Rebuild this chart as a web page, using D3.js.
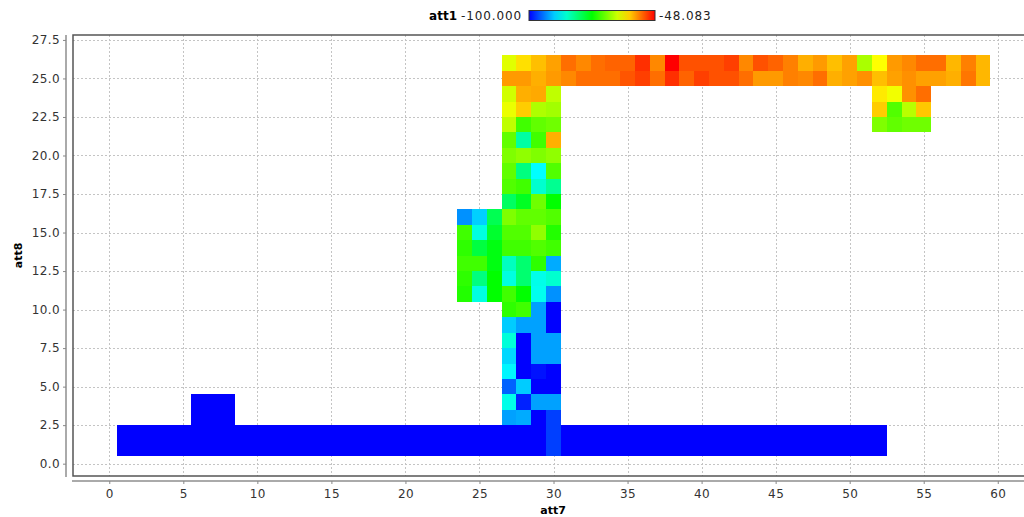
<!DOCTYPE html>
<head>
  <meta charset="utf-8">
  <script src="https://d3js.org/d3.v7.min.js"></script>
  <style>
    body { margin:0; background:#fff; }
    svg { display:block; font-family:"DejaVu Sans", sans-serif; }
  </style>
</head>
<body>
<script>
// value range of att1 (colour legend)
var vMin = -100.000, vMax = -48.083;

var xTicks = [0,5,10,15,20,25,30,35,40,45,50,55,60];
var yTicks = [0,2.5,5,7.5,10,12.5,15,17.5,20,22.5,25,27.5];

// each row: [att8, first att7, att1 values along att7]
var band = [
  [26, 27, [-62.6,-59.5,-57.8,-56.3,-53.7,-55.0,-53.7,-53.1,-53.1,-50.5,-55.0,-48.1,-52.2,-52.2,-52.2,-51.3,-55.0,
            -52.2,-53.1,-54.6,-57.0,-55.9,-57.8,-56.3,-65.4,-61.1,-55.9,-55.0,-53.7,-53.7,-57.4,-54.6,-57.4]],
  [25, 27, [-55.9,-55.9,-57.0,-55.9,-55.0,-53.7,-53.7,-53.7,-52.4,-51.3,-53.7,-50.5,-53.1,-51.3,-52.2,-52.2,-53.7,
            -55.9,-55.9,-54.6,-55.0,-53.7,-57.0,-56.3,-55.4,-57.8,-56.3,-55.4,-56.3,-56.3,-57.0,-54.1,-57.4]]
];

var stem = [
  [24, 27, [-63.4,-57.0,-56.7,-64.3]],
  [23, 27, [-62.1,-58.5,-65.2,-65.8]],
  [22, 27, [-64.3,-70.8,-69.1,-68.4]],
  [21, 27, [-69.1,-82.3,-70.8,-57.0]],
  [20, 27, [-67.6,-66.7,-67.6,-66.7]],
  [19, 27, [-69.1,-80.5,-87.0,-69.9]],
  [18, 27, [-69.9,-70.8,-84.6,-81.4]],
  [17, 27, [-79.0,-75.8,-68.4,-74.0]],
  [16, 27, [-67.6,-69.1,-69.1,-69.9]],
  [15, 27, [-69.9,-69.9,-66.7,-72.3]],
  [14, 27, [-70.8,-70.8,-69.9,-70.8]],
  [13, 27, [-83.8,-79.7,-71.7,-91.3]],
  [12, 27, [-85.5,-79.7,-85.9,-84.6]],
  [11, 27, [-70.8,-74.0,-86.2,-92.6]],
  [10, 27, [-71.7,-70.8,-91.8,-100]],
  [9,  27, [-89.6,-91.8,-91.8,-100]],
  [8,  27, [-85.1,-100,-91.8,-91.8]],
  [7,  27, [-89.0,-100,-91.8,-91.8]],
  [6,  27, [-87.5,-100,-99.1,-100]],
  [5,  27, [-95.0,-89.6,-100,-100]],
  [4,  27, [-85.9,-98.3,-91.8,-91.8]],
  [3,  27, [-91.8,-91.3,-100,-96.8]]
];

var side = [
  [16, 24, [-92.6,-89.4,-78.2]],
  [15, 24, [-70.8,-85.5,-76.4]],
  [14, 24, [-71.7,-77.3,-74.9]],
  [13, 24, [-70.8,-70.8,-74.9]],
  [12, 24, [-71.7,-80.5,-74.0]],
  [11, 24, [-72.3,-85.5,-74.0]]
];

var wing = [
  [24, 52, [-60.0,-61.7,-55.4,-53.7]],
  [23, 52, [-58.5,-69.9,-64.7,-58.2]],
  [22, 52, [-67.6,-69.1,-68.4,-68.4]]
];

var bump = [
  [4, 6, [-100,-100,-100]],
  [3, 6, [-100,-100,-100]]
];

// bottom strip att7 1..52, only att7=30 differs
var baseLeft  = [-100,-100,-100,-100,-100,-100,-100,-100,-100,-100,-100,-100,-100,-100,-100,-100,-100,-100,-100,-100,
                 -100,-100,-100,-100,-100,-100,-100,-100,-100];
var baseMid   = [-96.8];
var baseRight = [-100,-100,-100,-100,-100,-100,-100,-100,-100,-100,-100,-100,-100,-100,-100,-100,-100,-100,-100,-100,
                 -100,-100];
var baseVals = baseLeft.concat(baseMid, baseRight);
var base = [[2, 1, baseVals], [1, 1, baseVals]];

var width = 1024, height = 517;
var pLeft = 73, pRight = 1033, pTop = 35, pBottom = 476;

var svg = d3.select("body").append("svg")
  .attr("width", width).attr("height", height);

var x = d3.scaleLinear().domain([-2.45, 62.38]).range([pLeft, pRight]);
var y = d3.scaleLinear().domain([-0.8, 27.82]).range([pBottom, pTop]);

function rainbow(t) { return d3.hsl(240 * (1 - t), 1, 0.5).toString(); }
var tScale = d3.scaleLinear().domain([vMin, vMax]).range([0, 1]).clamp(true);
var color = function(v) { return rainbow(tScale(v)); };

// grid
var grid = svg.append("g").attr("stroke", "#c4c4c4").attr("stroke-dasharray", "2,2");
grid.selectAll("line.gx").data(xTicks).enter().append("line")
  .attr("x1", d => Math.round(x(d)) + 0.5).attr("x2", d => Math.round(x(d)) + 0.5)
  .attr("y1", pTop).attr("y2", pBottom);
grid.selectAll("line.gy").data(yTicks).enter().append("line")
  .attr("y1", d => Math.round(y(d)) + 0.5).attr("y2", d => Math.round(y(d)) + 0.5)
  .attr("x1", pLeft).attr("x2", width);

// cells
var cells = [];
[band, stem, side, wing, bump, base].forEach(function(block) {
  block.forEach(function(r) {
    r[2].forEach(function(v, i) { cells.push({cx: r[1] + i, cy: r[0], v: v}); });
  });
});

svg.append("g").attr("shape-rendering", "crispEdges")
  .selectAll("rect").data(cells).enter().append("rect")
  .attr("x", d => Math.round(x(d.cx - 0.5)))
  .attr("y", d => Math.round(y(d.cy + 0.5)))
  .attr("width", d => Math.round(x(d.cx + 0.5)) - Math.round(x(d.cx - 0.5)))
  .attr("height", d => Math.round(y(d.cy - 0.5)) - Math.round(y(d.cy + 0.5)))
  .attr("fill", d => color(d.v));

// frame
svg.append("rect")
  .attr("x", pLeft).attr("y", pTop)
  .attr("width", pRight - pLeft).attr("height", pBottom - pTop)
  .attr("fill", "none").attr("stroke", "#555").attr("stroke-width", 1.5);

function fmt(n) { return function(d) { return d.toFixed(n); }; }

// y axis
var yAxis = d3.axisLeft(y).tickValues(yTicks).tickFormat(fmt(1)).tickSize(3).tickPadding(3);
var gy = svg.append("g").attr("transform", "translate(66,0)").call(yAxis);
gy.select(".domain").attr("stroke", "#aaa").attr("stroke-width", 2).attr("d", "M0," + pTop + "V" + (pBottom + 1));

// x axis
var xAxis = d3.axisBottom(x).tickValues(xTicks).tickFormat(fmt(0)).tickSize(3).tickPadding(5);
var gx = svg.append("g").attr("transform", "translate(0,481)").call(xAxis);
gx.select(".domain").attr("stroke", "#aaa").attr("stroke-width", 2).attr("d", "M" + (pLeft - 1) + ",0H" + width);

svg.selectAll(".tick line").attr("stroke", "#888");
svg.selectAll(".tick text").attr("fill", "#333").style("font-size", "12px")
  .style("font-family", "DejaVu Sans").style("letter-spacing", "0.4px");

// axis titles
svg.append("text").attr("x", (pLeft + pRight) / 2).attr("y", 514)
  .attr("text-anchor", "middle").style("font-size", "11px").style("font-weight", "bold")
  .text("att7");
svg.append("text").attr("transform", "translate(22," + ((pTop + pBottom) / 2) + ")rotate(-90)")
  .attr("text-anchor", "middle").style("font-size", "11px").style("font-weight", "bold")
  .text("att8");

// legend
var defs = svg.append("defs");
var grad = defs.append("linearGradient").attr("id", "rb");
d3.range(0, 1.001, 0.1).forEach(function(t) {
  grad.append("stop").attr("offset", t).attr("stop-color", rainbow(t));
});
var lg = svg.append("g");
lg.append("text").attr("x", 457).attr("y", 20).attr("text-anchor", "end")
  .style("font-size", "12px").style("font-weight", "bold").text("att1");
lg.append("text").attr("x", 461).attr("y", 20)
  .style("font-size", "12px").style("letter-spacing", "0.9px").attr("fill", "#222")
  .text(vMin.toFixed(3));
lg.append("rect").attr("x", 529).attr("y", 10.5).attr("width", 126).attr("height", 10)
  .attr("fill", "url(#rb)").attr("stroke", "#333").attr("stroke-width", 1);
lg.append("text").attr("x", 659).attr("y", 20)
  .style("font-size", "12px").style("letter-spacing", "0.9px").attr("fill", "#222")
  .text(vMax.toFixed(3));
</script>
</body>
